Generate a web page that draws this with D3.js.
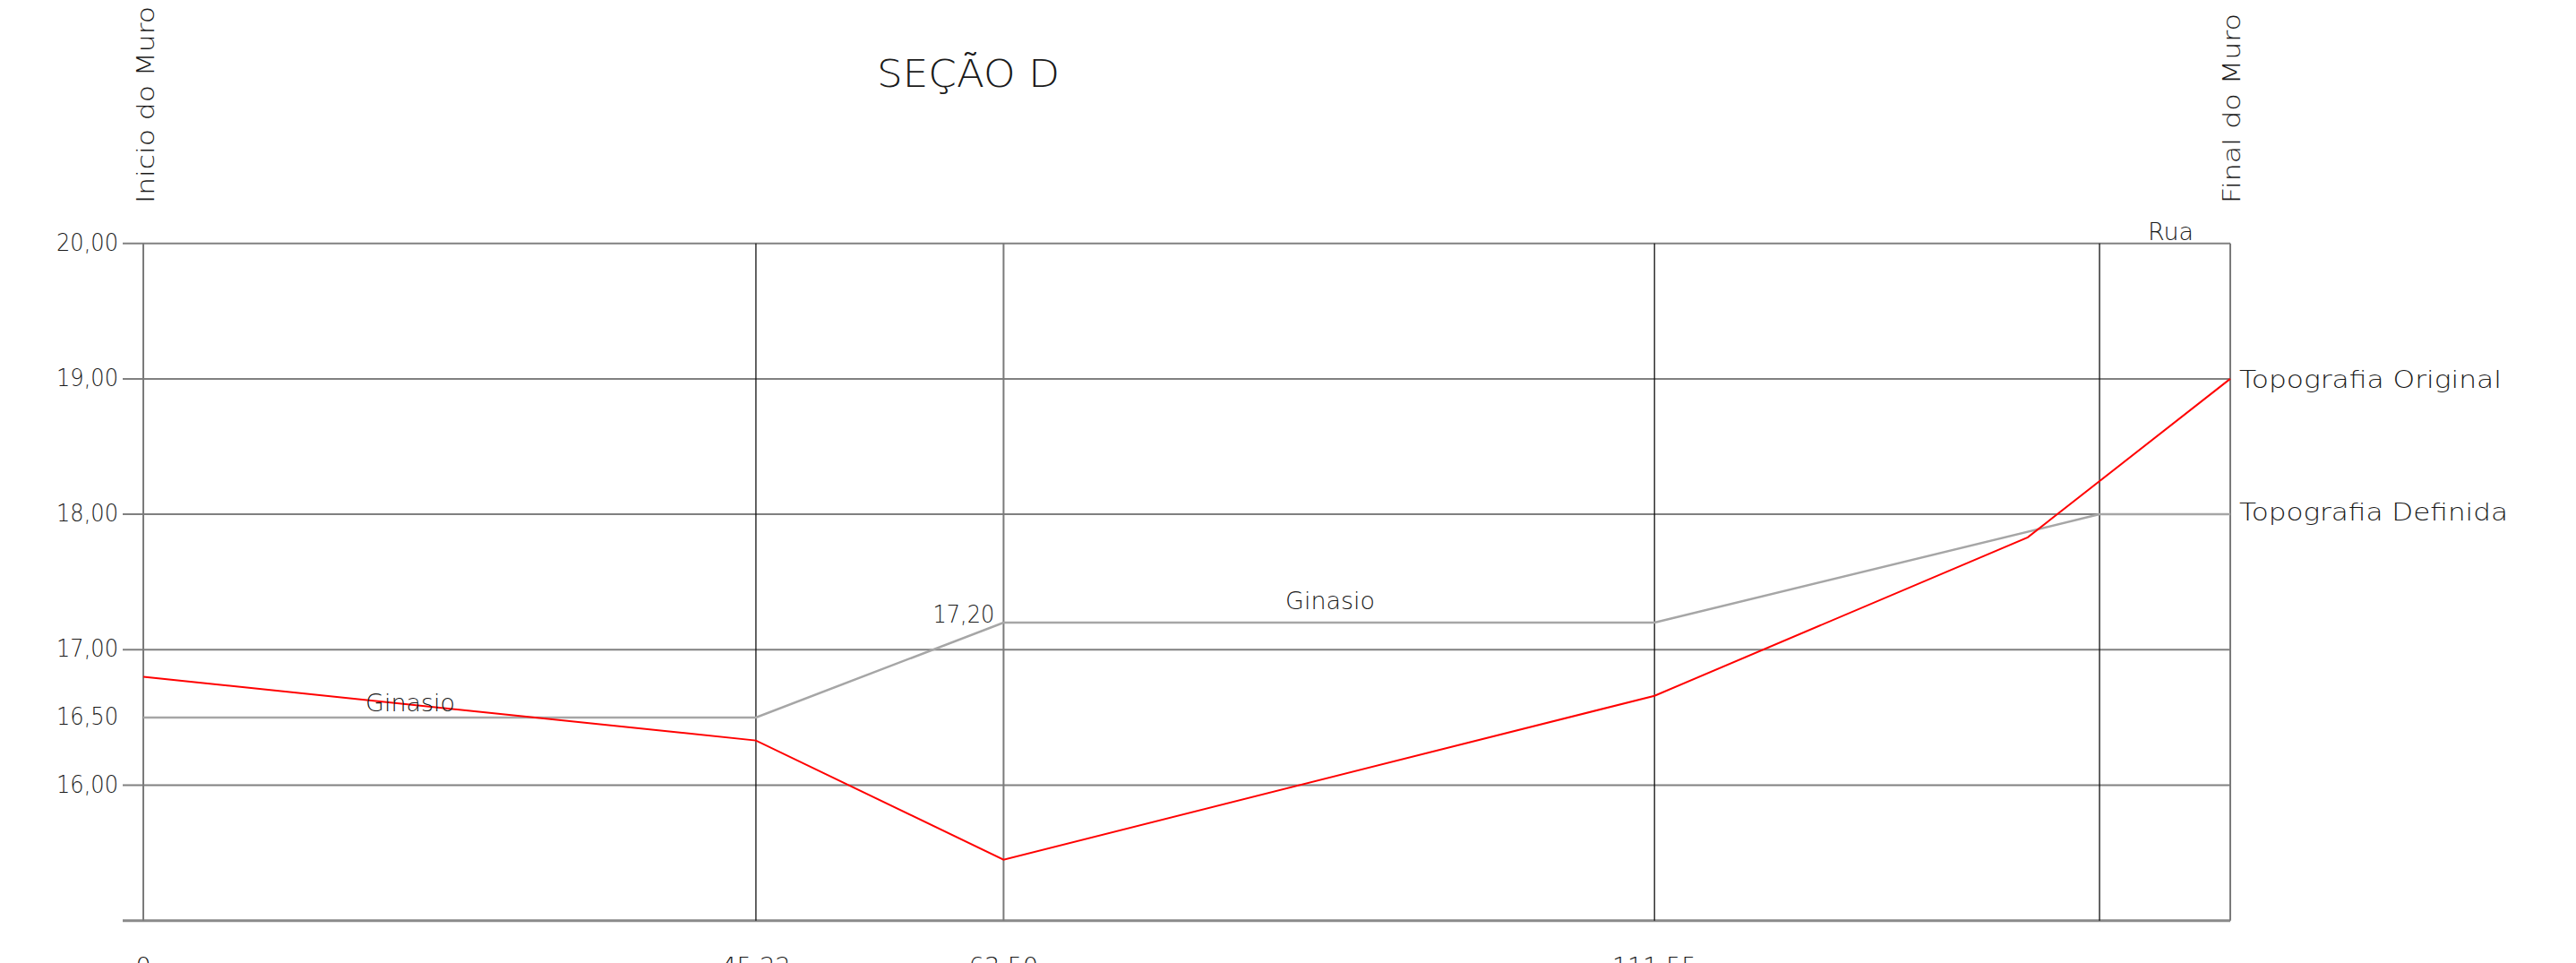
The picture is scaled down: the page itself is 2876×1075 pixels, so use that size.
<!DOCTYPE html>
<html>
<head>
<meta charset="utf-8">
<script src="https://cdn.jsdelivr.net/npm/d3@7"></script>
<style>
  body { margin: 0; background: #fff; }
  text { font-family: "DejaVu Sans", sans-serif; font-weight: 200; fill: #1a1a1a; }
</style>
</head>
<body>
<svg id="canvas" width="2876" height="1075"></svg>
<script>
// stations (m) and elevations (m)
var stations      = [0, 45.22, 63.50, 111.55, 144.40, 154.05];
var stationLabels = ['0', '45,22', '63,50', '111,55'];
var gridElevs     = [20, 19, 18, 17, 16];
var elevLabels    = [20, 19, 18, 17, 16.5, 16];

// Topografia Original (red)
var origX = [0, 45.22, 63.50, 111.55, 139.10, 154.05];
var origY = [16.80, 16.33, 15.45, 16.66, 17.83, 19.00];

// Topografia Definida (grey)
var defX = [0, 45.22, 63.50, 111.55, 144.40, 154.05];
var defY = [16.50, 16.50, 17.20, 17.20, 18.00, 18.00];

var br = d3.formatLocale({ decimal: ',', thousands: '.', grouping: [3], currency: ['R$', ''] });
var fmt2 = br.format('.2f');

var secao = {};

// ************************************************************************************** //
// Create

secao.create = function(){
  var svg = d3.select('#canvas');
  this.x = d3.scaleLinear().domain([0, 154.05]).range([160, 2490]);
  this.y = d3.scaleLinear().domain([15, 20]).range([1027.7, 271.7]);
  var x = this.x, y = this.y;
  var x0 = x(0) - 23, x1 = x(154.05);

  // horizontal grid, with the little tick sticking out to the left
  svg.append('g').selectAll('line').data(gridElevs).join('line')
    .attr('x1', x0).attr('x2', x1)
    .attr('y1', d => y(d)).attr('y2', d => y(d))
    .style('stroke', '#808080').style('stroke-width', 2);

  // bottom line
  svg.append('line')
    .attr('x1', x0).attr('x2', x1).attr('y1', y(15)).attr('y2', y(15))
    .style('stroke', '#8a8a8a').style('stroke-width', 3);

  // station verticals
  svg.append('g').selectAll('line').data(stations).join('line')
    .attr('x1', d => x(d)).attr('x2', d => x(d))
    .attr('y1', y(20)).attr('y2', y(15))
    .style('stroke', (d, i) => (i == 0 || i == 2 || i == 5) ? '#7a7a7a' : '#111')
    .style('stroke-width', (d, i) => (i == 0 || i == 2 || i == 5) ? 2 : 1.3);

  var line = d3.line().x(d => x(d[0])).y(d => y(d[1]));

  svg.append('path')
    .attr('d', line(defX.map((d, i) => [d, defY[i]])))
    .style('fill', 'none').style('stroke', '#a6a6a6').style('stroke-width', 2.5);

  svg.append('path')
    .attr('d', line(origX.map((d, i) => [d, origY[i]])))
    .style('fill', 'none').style('stroke', '#ff0000').style('stroke-width', 2);

  // elevation labels
  svg.append('g').selectAll('text').data(elevLabels).join('text')
    .attr('x', 132).attr('y', d => y(d) + 8)
    .attr('text-anchor', 'end')
    .attr('textLength', 69).attr('lengthAdjust', 'spacingAndGlyphs')
    .style('font-size', '27px')
    .text(d => fmt2(d));

  // station labels (cut by the bottom of the sheet, as in the drawing)
  svg.append('g').selectAll('text').data(stationLabels).join('text')
    .attr('x', (d, i) => x(stations[i])).attr('y', 1088)
    .attr('text-anchor', 'middle')
    .style('font-size', '27px')
    .text(d => d);

  // title and notes
  svg.append('text').attr('x', 979).attr('y', 97)
    .attr('textLength', 204).attr('lengthAdjust', 'spacingAndGlyphs')
    .style('font-size', '42px').text('SEÇÃO D');

  svg.append('text').attr('transform', 'translate(' + (x(0) + 12) + ',227) rotate(-90)')
    .attr('textLength', 220).attr('lengthAdjust', 'spacingAndGlyphs')
    .style('font-size', '27px').text('Inicio do Muro');

  svg.append('text').attr('transform', 'translate(' + (x(154.05) + 11) + ',227) rotate(-90)')
    .attr('textLength', 212).attr('lengthAdjust', 'spacingAndGlyphs')
    .style('font-size', '27px').text('Final do Muro');

  svg.append('text').attr('x', 2398).attr('y', y(20) - 4)
    .attr('textLength', 51).attr('lengthAdjust', 'spacingAndGlyphs')
    .style('font-size', '27px').text('Rua');

  svg.append('text').attr('x', x(154.05) + 10).attr('y', y(19) + 10)
    .attr('textLength', 293).attr('lengthAdjust', 'spacingAndGlyphs')
    .style('font-size', '27px').text('Topografia Original');

  svg.append('text').attr('x', x(154.05) + 10).attr('y', y(18) + 7)
    .attr('textLength', 300).attr('lengthAdjust', 'spacingAndGlyphs')
    .style('font-size', '27px').text('Topografia Definida');

  svg.append('text').attr('x', 408).attr('y', y(16.5) - 7)
    .attr('textLength', 100).attr('lengthAdjust', 'spacingAndGlyphs')
    .style('font-size', '27px').text('Ginasio');

  svg.append('text').attr('x', 1435).attr('y', y(17.2) - 15)
    .attr('textLength', 100).attr('lengthAdjust', 'spacingAndGlyphs')
    .style('font-size', '27px').text('Ginasio');

  svg.append('text').attr('x', x(63.50) - 10).attr('y', y(17.2))
    .attr('text-anchor', 'end')
    .attr('textLength', 69).attr('lengthAdjust', 'spacingAndGlyphs')
    .style('font-size', '27px').text(fmt2(17.2));
}

secao.create();
</script>
</body>
</html>
